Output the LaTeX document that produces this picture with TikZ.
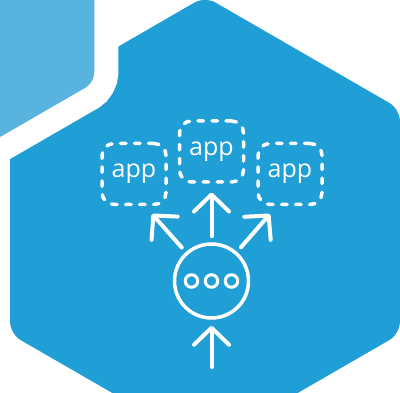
\documentclass[tikz,border=0pt]{standalone}
\usepackage{fontspec}
\newfontfamily\appfont{Open Sans}
\usetikzlibrary{arrows.meta}
\definecolor{hexblue}{HTML}{209ED6}
\definecolor{hexlight}{HTML}{58B4DF}

\begin{document}
\begin{tikzpicture}[x=1pt,y=-1pt,
        appbox/.style={draw=white,line width=3.5pt,dash pattern=on 5.5pt off 8.5pt,line cap=round,
            rounded corners=12pt,minimum width=64pt,minimum height=61pt,
            text=white,font=\appfont\fontsize{25pt}{30pt}\selectfont},
        hubring/.style={circle,draw=white,line width=3.5pt,minimum size=74pt},
        dotring/.style={circle,draw=white,line width=3pt,minimum size=12.5pt,inner sep=0pt},
        arr/.style={white,line width=4pt,line cap=round,-{Straight Barb[round,length=17pt,width=35pt]}}]
        % frame
        \useasboundingbox (0,0) rectangle (400,393);
        \clip (0,0) rectangle (400,393);
        % big hexagon
        \fill[hexblue,rounded corners=12pt] (10.1,221.5) -- (10.1,109) -- (205,-3.5) -- (399.9,109)
            -- (399.9,334) -- (205,446.5) -- (10.1,334) -- cycle;
        % light hexagon with white gap
        \fill[hexlight,rounded corners=10pt,preaction={draw=white,line width=48pt}]
            (94.3,-29.9) -- (94.3,82.6) -- (-100.6,195.1) -- (-295.5,82.6)
            -- (-295.5,-142.4) -- (-100.6,-254.9) -- (94.3,-142.4) -- cycle;
        % apps
        \node[appbox] (appL) at (134,174) {app};
        \node[appbox] (appM) at (211.5,151.5) {app};
        \node[appbox] (appR) at (290,174) {app};
        % hub
        \node[hubring] (hub) at (211.5,281) {};
        \foreach \x/\n in {191.5/l,211.5/m,231.5/r}
            \node[dotring] (dot\n) at (\x,281) {};
        % arrows
        \coordinate (tipL) at (152,214);
        \coordinate (tipM) at (211.5,192.5);
        \coordinate (tipR) at (270,214);
        \coordinate (src) at (211.5,367);
        \draw[arr,shorten <=6pt] (hub) -- (tipL);
        \draw[arr,shorten <=6pt] (hub) -- (tipM);
        \draw[arr,shorten <=6pt] (hub) -- (tipR);
        \draw[arr,shorten >=6pt] (src) -- (hub);
    \end{tikzpicture}
\end{document}
